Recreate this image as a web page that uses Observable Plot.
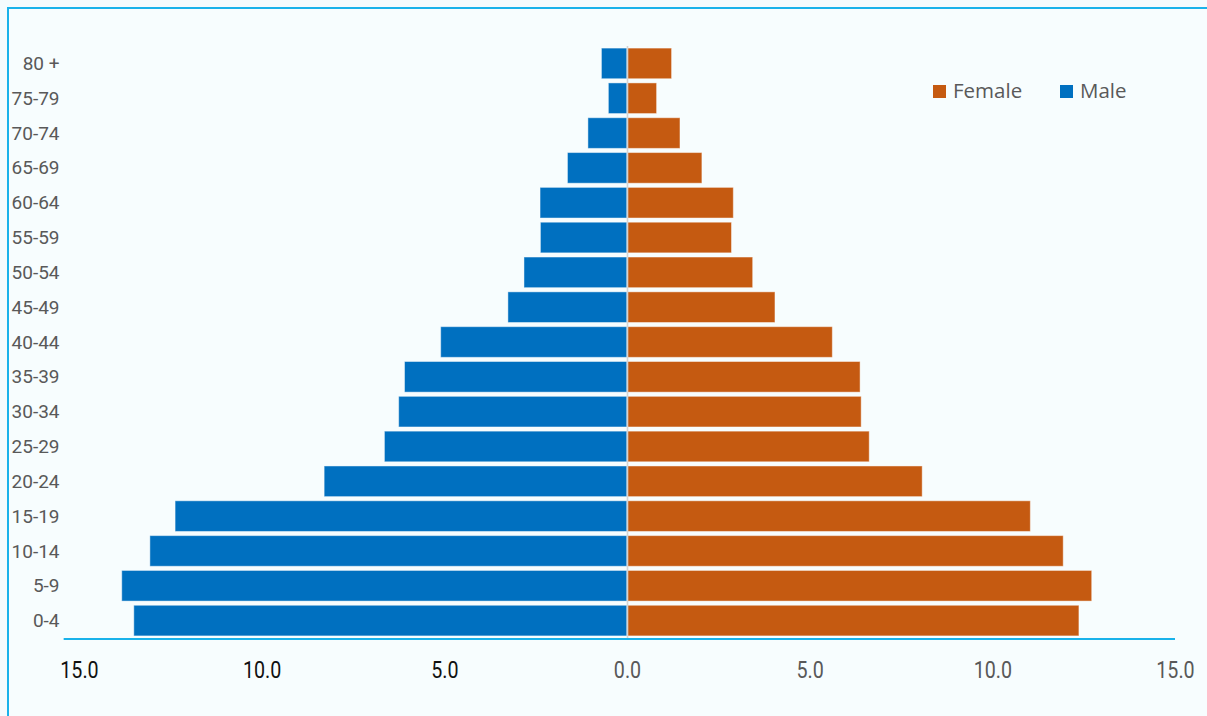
<!DOCTYPE html>
<html>
<head>
<meta charset="utf-8">
<script src="https://cdn.jsdelivr.net/npm/d3@7"></script>
<script src="https://cdn.jsdelivr.net/npm/@observablehq/plot@0.6"></script>
<style>
  html, body { margin: 0; padding: 0; background: #f4fbfd; }
  #wrap { position: relative; width: 1207px; height: 716px; overflow: hidden; }
  #frame { position: absolute; left: 7px; top: 7px; width: 1220px; height: 730px;
           border-left: 2px solid #19b2ea; border-top: 2px solid #19b2ea; background: #f7fdfe; }
  #chart { position: absolute; left: 0; top: 0; }
  .item { position: absolute; top: 78px; display: flex; align-items: center;
          font-family: "Open Sans", sans-serif; font-size: 20.5px; color: #595959; line-height: 24px; }
  .sw { width: 13px; height: 13px; margin-right: 7px; margin-top: 3px; }
</style>
</head>
<body>
<div id="wrap">
  <div id="frame"></div>
  <div id="chart"></div>
  <div class="item" style="left:933px"><div class="sw" style="background:#c55a11"></div><span>Female</span></div>
  <div class="item" style="left:1060px"><div class="sw" style="background:#0070c0"></div><span>Male</span></div>
</div>
<script>
const ageGroups = ["0-4","5-9","10-14","15-19","20-24","25-29","30-34","35-39","40-44","45-49","50-54","55-59","60-64","65-69","70-74","75-79","80 +"];
const maleValues   = [13.50,13.83,13.06,12.37,8.29,6.64,6.25,6.09,5.10,3.26,2.82,2.37,2.38,1.63,1.07,0.51,0.70];
const femaleValues = [12.37,12.72,11.94,11.04,8.08,6.63,6.41,6.38,5.62,4.05,3.44,2.86,2.91,2.05,1.45,0.81,1.22];
const leftTicks = [-15,-10,-5];
const rightTicks = [0,5,10,15];

const rows = [];
ageGroups.forEach((a, i) => {
  rows.push({age: a, sex: "Male", value: -maleValues[i]});
  rows.push({age: a, sex: "Female", value: femaleValues[i]});
});

const fmt = d => Math.abs(d).toFixed(1);

const chart = Plot.plot({
  width: 1207,
  height: 716,
  marginTop: 46,
  marginBottom: 78,
  marginLeft: 79,
  marginRight: 32,
  style: {background: "transparent", fontFamily: "Roboto, sans-serif"},
  x: {domain: [-15, 15]},
  y: {domain: ageGroups.slice().reverse(), paddingInner: 0.12, paddingOuter: 0.06, round: false},
  color: {domain: ["Female", "Male"], range: ["#c55a11", "#0070c0"]},
  marks: [
    Plot.barX(rows, {x: "value", y: "age", fill: "sex", stroke: "white", strokeOpacity: 0.45, strokeWidth: 1}),
    Plot.ruleX([0], {stroke: "#d4d4d4", strokeWidth: 1.6}),
    Plot.axisY({tickSize: 0, tickPadding: 20, fontSize: 19, fill: "#595959", label: null}),
    Plot.axisX(leftTicks, {tickSize: 0, tickPadding: 22, fontSize: 24, fill: "#111111", tickFormat: fmt, label: null, className: "xt"}),
    Plot.axisX(rightTicks, {tickSize: 0, tickPadding: 22, fontSize: 24, fill: "#595959", tickFormat: fmt, label: null, className: "xt"})
  ]
});

// narrow the bottom tick labels (the reference uses a condensed face)
d3.select(chart).selectAll("g[aria-label='x-axis tick label'] text").each(function() {
  const t = this.getAttribute("transform") || "";
  this.setAttribute("transform", t + " scale(0.82,1)");
});

// bottom axis line drawn through the chart's own x scale
const xs = chart.scale("x");
d3.select(chart).append("line")
  .attr("x1", xs.apply(-15.42)).attr("x2", xs.apply(15))
  .attr("y1", 716 - 78 + 1).attr("y2", 716 - 78 + 1)
  .attr("stroke", "#19b2ea").attr("stroke-width", 2.2);

document.getElementById("chart").appendChild(chart);
</script>
</body>
</html>
